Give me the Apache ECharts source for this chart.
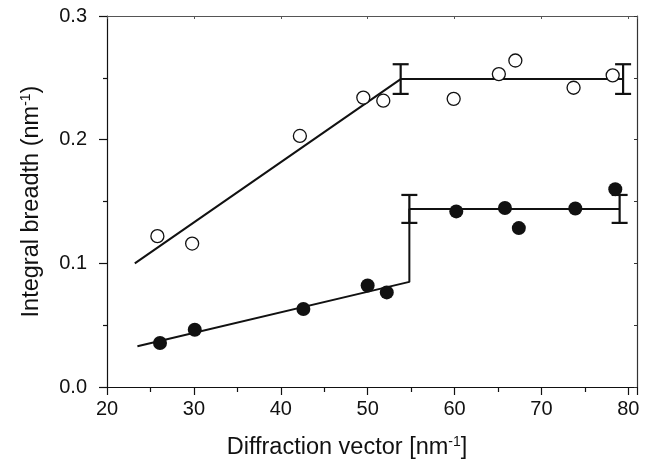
<!DOCTYPE html>
<html>
<head>
<meta charset="utf-8">
<script src="https://cdn.jsdelivr.net/npm/echarts@6/dist/echarts.min.js"></script>
<style>html,body{margin:0;padding:0;background:#fff}#c{width:654px;height:468px}</style>
</head>
<body>
<div id="c"></div>
<script>
// Open circles (upper series)
var openX = [25.8, 29.8, 42.2, 49.5, 51.8, 59.9, 65.1, 67.0, 73.7, 78.2];
var openY = [0.122, 0.116, 0.203, 0.234, 0.2315, 0.233, 0.253, 0.264, 0.242, 0.252];
// Filled circles (lower series)
var fillX = [26.1, 30.1, 42.6, 50.0, 52.2, 60.2, 65.8, 67.4, 73.9, 78.5];
var fillY = [0.0356, 0.0463, 0.0631, 0.0821, 0.0765, 0.142, 0.1447, 0.1285, 0.1444, 0.160];
// Fitted lines
var upperLineX = [23.2, 53.8, 79.4];
var upperLineY = [0.100, 0.249, 0.249];
var lowerLineX = [23.5, 54.8, 54.8, 79.0];
var lowerLineY = [0.033, 0.085, 0.144, 0.144];
// Error bars: x, y, half-width
var errX = [53.8, 79.4, 54.8, 79.0];
var errY = [0.249, 0.249, 0.144, 0.144];
var errE = [0.012, 0.012, 0.0113, 0.0113];
// Axis ticks
var xTicks = [20, 30, 40, 50, 60, 70, 80];
var yTicks = [0.0, 0.1, 0.2, 0.3];

function zip(a, b) { return a.map(function (v, i) { return [v, b[i]]; }); }

var font = "'Liberation Sans', Arial, Helvetica, sans-serif";
var chart = echarts.init(document.getElementById('c'));
chart.setOption({
  animation: false,
  backgroundColor: '#fff',
  grid: { left: 107, right: 17, top: 16, bottom: 81 },
  xAxis: [{
    type: 'value', min: 20, max: 81, interval: 10,
    axisLine: { onZero: false, lineStyle: { color: '#111', width: 1.2 } },
    axisTick: { length: 8, lineStyle: { color: '#111', width: 1.2 } },
    minorTick: { show: true, splitNumber: 2, length: 5, lineStyle: { color: '#111', width: 1.2 } },
    splitLine: { show: false },
    axisLabel: { margin: 12, fontSize: 20, color: '#111', fontFamily: font,
      formatter: function (v) { return xTicks.indexOf(v) >= 0 ? String(v) : ''; } },
    name: '{a|Diffraction vector [nm}{s|-1}{a|]}',
    nameLocation: 'middle', nameGap: 48,
    nameTextStyle: { fontFamily: font, color: '#111', padding: [0, 50, 0, 0],
      rich: { a: { fontSize: 23.5, fontFamily: font, color: '#111' },
              s: { fontSize: 14, fontFamily: font, color: '#111', verticalAlign: 'top', padding: [0, 0, 12, 0] } } }
  }, {
    type: 'value', min: 20, max: 81, interval: 10, position: 'top',
    axisLine: { onZero: false, lineStyle: { color: '#555', width: 1.2 } },
    axisTick: { inside: true, length: 3, lineStyle: { color: '#555' } },
    minorTick: { show: false },
    splitLine: { show: false }, axisLabel: { show: false }
  }],
  yAxis: [{
    type: 'value', min: 0, max: 0.3, interval: 0.1,
    axisLine: { onZero: false, lineStyle: { color: '#111', width: 1.2 } },
    axisTick: { length: 8, lineStyle: { color: '#111', width: 1.2 } },
    minorTick: { show: true, splitNumber: 2, length: 4, lineStyle: { color: '#111', width: 1.2 } },
    splitLine: { show: false },
    axisLabel: { margin: 20, fontSize: 20, color: '#111', fontFamily: font,
      formatter: function (v) { return v.toFixed(1); } },
    name: '{a|Integral breadth (nm}{s|-1}{a|)}',
    nameLocation: 'middle', nameGap: 62, nameRotate: 90,
    nameTextStyle: { fontFamily: font, color: '#111',
      rich: { a: { fontSize: 23.5, fontFamily: font, color: '#111' },
              s: { fontSize: 14, fontFamily: font, color: '#111', verticalAlign: 'top', padding: [0, 0, 12, 0] } } }
  }, {
    type: 'value', min: 0, max: 0.3, interval: 0.1, position: 'right',
    axisLine: { onZero: false, lineStyle: { color: '#333', width: 1.2 } },
    axisTick: { inside: true, length: 3, lineStyle: { color: '#333' } },
    minorTick: { show: true, splitNumber: 2, length: 3, lineStyle: { color: '#333' } },
    splitLine: { show: false }, axisLabel: { show: false }
  }],
  series: [{
    type: 'line', data: zip(upperLineX, upperLineY), symbol: 'none',
    lineStyle: { color: '#111', width: 2 }, z: 2
  }, {
    type: 'line', data: zip(lowerLineX, lowerLineY), symbol: 'none',
    lineStyle: { color: '#111', width: 2 }, z: 2
  }, {
    type: 'custom', z: 3,
    data: errX.map(function (x, i) { return [x, errY[i], errE[i]]; }),
    renderItem: function (params, api) {
      var x = api.value(0), y = api.value(1), e = api.value(2);
      var top = api.coord([x, y + e]);
      var bot = api.coord([x, y - e]);
      var w = 8;
      var st = { stroke: '#111', lineWidth: 2.2 };
      return { type: 'group', children: [
        { type: 'line', shape: { x1: top[0], y1: top[1], x2: bot[0], y2: bot[1] }, style: st },
        { type: 'line', shape: { x1: top[0] - w, y1: top[1], x2: top[0] + w, y2: top[1] }, style: st },
        { type: 'line', shape: { x1: bot[0] - w, y1: bot[1], x2: bot[0] + w, y2: bot[1] }, style: st }
      ] };
    }
  }, {
    type: 'scatter', data: zip(openX, openY), symbol: 'circle', symbolSize: 13,
    itemStyle: { color: '#fff', borderColor: '#111', borderWidth: 1.3, opacity: 1 }, z: 4
  }, {
    type: 'scatter', data: zip(fillX, fillY), symbol: 'circle', symbolSize: 14,
    itemStyle: { color: '#111', opacity: 1 }, z: 4
  }]
});
</script>
</body>
</html>
